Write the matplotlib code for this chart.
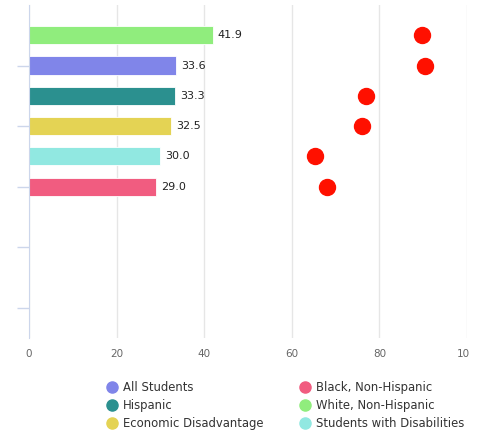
import matplotlib.pyplot as plt
from matplotlib.lines import Line2D
from matplotlib.transforms import Bbox

# Groups shown top to bottom
groups = ["White, Non-Hispanic", "All Students", "Hispanic",
          "Economic Disadvantage", "Students with Disabilities", "Black, Non-Hispanic"]
bar_values = [41.9, 33.6, 33.3, 32.5, 30.0, 29.0]
dot_values = [89.8, 90.4, 77.0, 76.0, 65.3, 68.0]
colors = ["#90ed7d", "#8085e9", "#2b908f", "#e4d354", "#91e8e1", "#f15c80"]

legend_order = ["All Students", "Hispanic", "Economic Disadvantage",
                "Black, Non-Hispanic", "White, Non-Hispanic", "Students with Disabilities"]
x_ticks = [0, 20, 40, 60, 80, 100]

fig = plt.figure(figsize=(4.8, 4.33), dpi=100)
ax = fig.add_axes([29 / 480, 95 / 433, 438 / 480, 333 / 433])

ypos = list(range(len(groups)))
ax.barh(ypos, bar_values, height=0.6, color=colors, edgecolor="white",
        linewidth=0.6, zorder=2)
for y, v in zip(ypos, bar_values):
    ax.annotate(f"{v:.1f}", (v, y), xytext=(3.5, 0), textcoords="offset points",
                va="center", ha="left", fontsize=8, color="#222222")

ax.plot(dot_values, ypos, "o", color="#ff1000", markersize=11.5,
        linestyle="none", zorder=3)

ax.set_xlim(0, 100)
ax.set_ylim(10, -1)
ax.set_xticks(x_ticks)
ax.set_xticklabels([str(t) for t in x_ticks])
ax.set_yticks([1, 3, 5, 7, 9])
ax.set_yticklabels([])
ax.grid(axis="x", color="#e6e6e6", linewidth=1, zorder=0)
ax.set_axisbelow(True)

for side in ["top", "right", "bottom"]:
    ax.spines[side].set_visible(False)
ax.spines["left"].set_color("#ccd6eb")
ax.tick_params(axis="y", length=9, color="#ccd6eb", width=1)
ax.tick_params(axis="x", length=0, pad=8, labelsize=7.5, labelcolor="#666666")

# the last x label runs past the chart edge and is cut off
clip = Bbox.from_extents(0, 0, 469, 433)
for lab in ax.get_xticklabels():
    lab.set_clip_box(clip)
    lab.set_clip_on(True)

color_of = dict(zip(groups, colors))
handles = [Line2D([], [], marker="o", linestyle="none", markersize=8,
                  color=color_of[g]) for g in legend_order]
fig.legend(handles, legend_order, ncol=2, frameon=False, fontsize=8.4,
           loc="upper left", bbox_to_anchor=(101 / 480, 1 - 376 / 433),
           handletextpad=0.5, columnspacing=3.0, labelspacing=0.45,
           handlelength=1.0, labelcolor="#333333", borderaxespad=0)

fig.savefig("out.png", dpi=100)
